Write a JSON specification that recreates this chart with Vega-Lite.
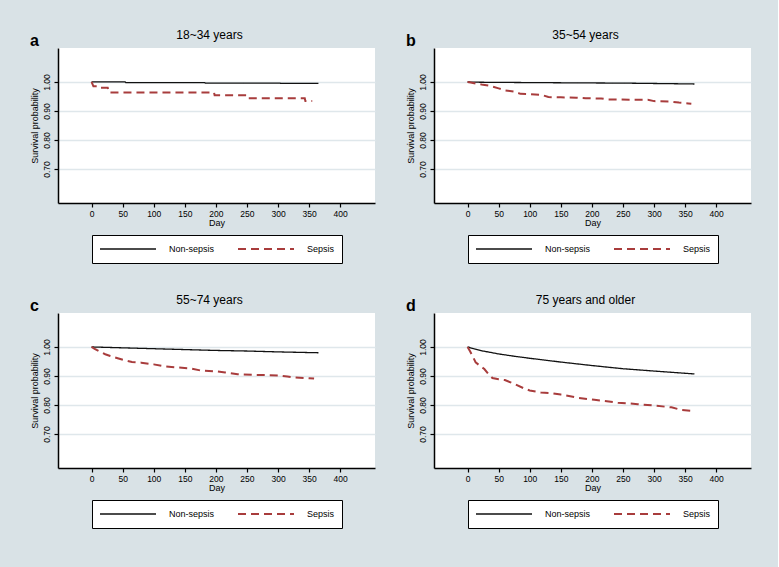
{
  "$schema": "https://vega.github.io/schema/vega-lite/v6.json",
  "background": "#d9e2e6",
  "padding": {"left": 29, "top": 29, "right": 27, "bottom": 39},
  "datasets": {
    "km": [
      {"panel": "a", "group": "Non-sepsis", "day": 0, "surv": 1.0},
      {"panel": "a", "group": "Non-sepsis", "day": 54, "surv": 1.0},
      {"panel": "a", "group": "Non-sepsis", "day": 55, "surv": 0.998},
      {"panel": "a", "group": "Non-sepsis", "day": 182, "surv": 0.998},
      {"panel": "a", "group": "Non-sepsis", "day": 183, "surv": 0.996},
      {"panel": "a", "group": "Non-sepsis", "day": 303, "surv": 0.996},
      {"panel": "a", "group": "Non-sepsis", "day": 304, "surv": 0.995},
      {"panel": "a", "group": "Non-sepsis", "day": 365, "surv": 0.995},
      {"panel": "a", "group": "Sepsis", "day": 0, "surv": 1.0},
      {"panel": "a", "group": "Sepsis", "day": 3, "surv": 0.985},
      {"panel": "a", "group": "Sepsis", "day": 13, "surv": 0.985},
      {"panel": "a", "group": "Sepsis", "day": 15, "surv": 0.98},
      {"panel": "a", "group": "Sepsis", "day": 26, "surv": 0.98},
      {"panel": "a", "group": "Sepsis", "day": 28, "surv": 0.964},
      {"panel": "a", "group": "Sepsis", "day": 197, "surv": 0.964},
      {"panel": "a", "group": "Sepsis", "day": 198, "surv": 0.954},
      {"panel": "a", "group": "Sepsis", "day": 249, "surv": 0.954},
      {"panel": "a", "group": "Sepsis", "day": 250, "surv": 0.944},
      {"panel": "a", "group": "Sepsis", "day": 343, "surv": 0.944},
      {"panel": "a", "group": "Sepsis", "day": 344, "surv": 0.934},
      {"panel": "a", "group": "Sepsis", "day": 355, "surv": 0.934},
      {"panel": "b", "group": "Non-sepsis", "day": 0, "surv": 1.0},
      {"panel": "b", "group": "Non-sepsis", "day": 20, "surv": 0.999},
      {"panel": "b", "group": "Non-sepsis", "day": 90, "surv": 0.998},
      {"panel": "b", "group": "Non-sepsis", "day": 165, "surv": 0.997},
      {"panel": "b", "group": "Non-sepsis", "day": 250, "surv": 0.996},
      {"panel": "b", "group": "Non-sepsis", "day": 330, "surv": 0.994},
      {"panel": "b", "group": "Non-sepsis", "day": 365, "surv": 0.993},
      {"panel": "b", "group": "Sepsis", "day": 0, "surv": 1.0},
      {"panel": "b", "group": "Sepsis", "day": 5, "surv": 0.998},
      {"panel": "b", "group": "Sepsis", "day": 15, "surv": 0.994},
      {"panel": "b", "group": "Sepsis", "day": 25, "surv": 0.99},
      {"panel": "b", "group": "Sepsis", "day": 35, "surv": 0.987},
      {"panel": "b", "group": "Sepsis", "day": 50, "surv": 0.978},
      {"panel": "b", "group": "Sepsis", "day": 60, "surv": 0.971},
      {"panel": "b", "group": "Sepsis", "day": 75, "surv": 0.967},
      {"panel": "b", "group": "Sepsis", "day": 85, "surv": 0.959},
      {"panel": "b", "group": "Sepsis", "day": 100, "surv": 0.958},
      {"panel": "b", "group": "Sepsis", "day": 120, "surv": 0.955},
      {"panel": "b", "group": "Sepsis", "day": 130, "surv": 0.948},
      {"panel": "b", "group": "Sepsis", "day": 150, "surv": 0.947},
      {"panel": "b", "group": "Sepsis", "day": 175, "surv": 0.946},
      {"panel": "b", "group": "Sepsis", "day": 190, "surv": 0.944},
      {"panel": "b", "group": "Sepsis", "day": 215, "surv": 0.943},
      {"panel": "b", "group": "Sepsis", "day": 225, "surv": 0.94},
      {"panel": "b", "group": "Sepsis", "day": 260, "surv": 0.939},
      {"panel": "b", "group": "Sepsis", "day": 290, "surv": 0.939},
      {"panel": "b", "group": "Sepsis", "day": 300, "surv": 0.934},
      {"panel": "b", "group": "Sepsis", "day": 325, "surv": 0.933},
      {"panel": "b", "group": "Sepsis", "day": 340, "surv": 0.929},
      {"panel": "b", "group": "Sepsis", "day": 355, "surv": 0.926},
      {"panel": "b", "group": "Sepsis", "day": 360, "surv": 0.925},
      {"panel": "c", "group": "Non-sepsis", "day": 0, "surv": 1.0},
      {"panel": "c", "group": "Non-sepsis", "day": 50, "surv": 0.997},
      {"panel": "c", "group": "Non-sepsis", "day": 100, "surv": 0.994},
      {"panel": "c", "group": "Non-sepsis", "day": 150, "surv": 0.991},
      {"panel": "c", "group": "Non-sepsis", "day": 200, "surv": 0.988},
      {"panel": "c", "group": "Non-sepsis", "day": 250, "surv": 0.986},
      {"panel": "c", "group": "Non-sepsis", "day": 300, "surv": 0.983},
      {"panel": "c", "group": "Non-sepsis", "day": 365, "surv": 0.98},
      {"panel": "c", "group": "Sepsis", "day": 0, "surv": 1.0},
      {"panel": "c", "group": "Sepsis", "day": 5, "surv": 0.993},
      {"panel": "c", "group": "Sepsis", "day": 13, "surv": 0.984},
      {"panel": "c", "group": "Sepsis", "day": 22, "surv": 0.975},
      {"panel": "c", "group": "Sepsis", "day": 30, "surv": 0.969},
      {"panel": "c", "group": "Sepsis", "day": 42, "surv": 0.961},
      {"panel": "c", "group": "Sepsis", "day": 55, "surv": 0.953},
      {"panel": "c", "group": "Sepsis", "day": 65, "surv": 0.948},
      {"panel": "c", "group": "Sepsis", "day": 80, "surv": 0.946},
      {"panel": "c", "group": "Sepsis", "day": 100, "surv": 0.94},
      {"panel": "c", "group": "Sepsis", "day": 115, "surv": 0.934},
      {"panel": "c", "group": "Sepsis", "day": 140, "surv": 0.929},
      {"panel": "c", "group": "Sepsis", "day": 160, "surv": 0.926},
      {"panel": "c", "group": "Sepsis", "day": 175, "surv": 0.919},
      {"panel": "c", "group": "Sepsis", "day": 200, "surv": 0.916},
      {"panel": "c", "group": "Sepsis", "day": 215, "surv": 0.912},
      {"panel": "c", "group": "Sepsis", "day": 235, "surv": 0.906},
      {"panel": "c", "group": "Sepsis", "day": 260, "surv": 0.904},
      {"panel": "c", "group": "Sepsis", "day": 300, "surv": 0.902},
      {"panel": "c", "group": "Sepsis", "day": 315, "surv": 0.898},
      {"panel": "c", "group": "Sepsis", "day": 325, "surv": 0.895},
      {"panel": "c", "group": "Sepsis", "day": 350, "surv": 0.892},
      {"panel": "c", "group": "Sepsis", "day": 358, "surv": 0.891},
      {"panel": "d", "group": "Non-sepsis", "day": 0, "surv": 1.0},
      {"panel": "d", "group": "Non-sepsis", "day": 10, "surv": 0.994},
      {"panel": "d", "group": "Non-sepsis", "day": 25, "surv": 0.986},
      {"panel": "d", "group": "Non-sepsis", "day": 50, "surv": 0.976},
      {"panel": "d", "group": "Non-sepsis", "day": 75, "surv": 0.968},
      {"panel": "d", "group": "Non-sepsis", "day": 100, "surv": 0.961},
      {"panel": "d", "group": "Non-sepsis", "day": 150, "surv": 0.948},
      {"panel": "d", "group": "Non-sepsis", "day": 200, "surv": 0.936},
      {"panel": "d", "group": "Non-sepsis", "day": 250, "surv": 0.925},
      {"panel": "d", "group": "Non-sepsis", "day": 300, "surv": 0.917},
      {"panel": "d", "group": "Non-sepsis", "day": 365, "surv": 0.907},
      {"panel": "d", "group": "Sepsis", "day": 0, "surv": 1.0},
      {"panel": "d", "group": "Sepsis", "day": 4, "surv": 0.985},
      {"panel": "d", "group": "Sepsis", "day": 8, "surv": 0.969},
      {"panel": "d", "group": "Sepsis", "day": 13, "surv": 0.947},
      {"panel": "d", "group": "Sepsis", "day": 20, "surv": 0.935},
      {"panel": "d", "group": "Sepsis", "day": 27, "surv": 0.924},
      {"panel": "d", "group": "Sepsis", "day": 33, "surv": 0.908},
      {"panel": "d", "group": "Sepsis", "day": 40, "surv": 0.893},
      {"panel": "d", "group": "Sepsis", "day": 50, "surv": 0.889},
      {"panel": "d", "group": "Sepsis", "day": 60, "surv": 0.886},
      {"panel": "d", "group": "Sepsis", "day": 75, "surv": 0.873},
      {"panel": "d", "group": "Sepsis", "day": 90, "surv": 0.858},
      {"panel": "d", "group": "Sepsis", "day": 100, "surv": 0.85},
      {"panel": "d", "group": "Sepsis", "day": 118, "surv": 0.843},
      {"panel": "d", "group": "Sepsis", "day": 135, "surv": 0.841},
      {"panel": "d", "group": "Sepsis", "day": 150, "surv": 0.836},
      {"panel": "d", "group": "Sepsis", "day": 177, "surv": 0.825},
      {"panel": "d", "group": "Sepsis", "day": 204, "surv": 0.818},
      {"panel": "d", "group": "Sepsis", "day": 242, "surv": 0.808},
      {"panel": "d", "group": "Sepsis", "day": 274, "surv": 0.803},
      {"panel": "d", "group": "Sepsis", "day": 301, "surv": 0.798},
      {"panel": "d", "group": "Sepsis", "day": 328, "surv": 0.792},
      {"panel": "d", "group": "Sepsis", "day": 344, "surv": 0.783},
      {"panel": "d", "group": "Sepsis", "day": 362, "surv": 0.78}
    ],
    "panels": [
      {"panel": "a", "letter": "a"},
      {"panel": "b", "letter": "b"},
      {"panel": "c", "letter": "c"},
      {"panel": "d", "letter": "d"}
    ]
  },
  "vconcat": [
    {
      "hconcat": [
        {
          "width": 317, "height": 155,
          "title": {"text": "18~34 years"},
          "layer": [
            {
              "data": {"name": "km"},
              "transform": [{"filter": "datum.panel === 'a'"}],
              "mark": {"type": "line"},
              "encoding": {
                "x": {"field": "day", "type": "quantitative", "scale": {"domain": [-54, 456], "nice": false, "zero": false}, "axis": {"values": [0, 50, 100, 150, 200, 250, 300, 350, 400], "tickCount": 20, "labelOverlap": false, "labelFlush": false, "title": "Day", "grid": false}},
                "y": {"field": "surv", "type": "quantitative", "scale": {"domain": [0.583, 1.117], "nice": false, "zero": false}, "axis": {"values": [0.7, 0.8, 0.9, 1.0], "tickCount": 10, "labelOverlap": false, "format": ".2f", "title": "Survival probability", "grid": true}},
                "color": {"field": "group", "type": "nominal", "scale": {"domain": ["Non-sepsis", "Sepsis"], "range": ["#111111", "#a83c3c"]}, "legend": {"title": null}},
                "strokeDash": {"field": "group", "type": "nominal", "scale": {"domain": ["Non-sepsis", "Sepsis"], "range": [[1, 0], [8, 5]]}, "legend": {"title": null}},
                "strokeWidth": {"field": "group", "type": "nominal", "scale": {"domain": ["Non-sepsis", "Sepsis"], "range": [1.3, 2]}, "legend": {"title": null}}
              }
            },
            {
              "data": {"name": "panels"},
              "transform": [{"filter": "datum.panel === 'a'"}],
              "mark": {"type": "text", "fontSize": 16, "fontWeight": "bold", "align": "left", "baseline": "alphabetic", "font": "Liberation Sans", "color": "black"},
              "encoding": {"x": {"datum": -99, "type": "quantitative"}, "y": {"datum": 1.123, "type": "quantitative"}, "text": {"field": "letter"}}
            }
          ]
        },
        {
          "width": 317, "height": 155,
          "title": {"text": "35~54 years"},
          "layer": [
            {
              "data": {"name": "km"},
              "transform": [{"filter": "datum.panel === 'b'"}],
              "mark": {"type": "line"},
              "encoding": {
                "x": {"field": "day", "type": "quantitative", "scale": {"domain": [-54, 456], "nice": false, "zero": false}, "axis": {"values": [0, 50, 100, 150, 200, 250, 300, 350, 400], "tickCount": 20, "labelOverlap": false, "labelFlush": false, "title": "Day", "grid": false}},
                "y": {"field": "surv", "type": "quantitative", "scale": {"domain": [0.583, 1.117], "nice": false, "zero": false}, "axis": {"values": [0.7, 0.8, 0.9, 1.0], "tickCount": 10, "labelOverlap": false, "format": ".2f", "title": "Survival probability", "grid": true}},
                "color": {"field": "group", "type": "nominal", "scale": {"domain": ["Non-sepsis", "Sepsis"], "range": ["#111111", "#a83c3c"]}, "legend": {"title": null}},
                "strokeDash": {"field": "group", "type": "nominal", "scale": {"domain": ["Non-sepsis", "Sepsis"], "range": [[1, 0], [8, 5]]}, "legend": {"title": null}},
                "strokeWidth": {"field": "group", "type": "nominal", "scale": {"domain": ["Non-sepsis", "Sepsis"], "range": [1.3, 2]}, "legend": {"title": null}}
              }
            },
            {
              "data": {"name": "panels"},
              "transform": [{"filter": "datum.panel === 'b'"}],
              "mark": {"type": "text", "fontSize": 16, "fontWeight": "bold", "align": "left", "baseline": "alphabetic", "font": "Liberation Sans", "color": "black"},
              "encoding": {"x": {"datum": -99, "type": "quantitative"}, "y": {"datum": 1.123, "type": "quantitative"}, "text": {"field": "letter"}}
            }
          ]
        }
      ],
      "spacing": 30,
      "resolve": {"scale": {"color": "independent", "strokeDash": "independent", "strokeWidth": "independent"}, "legend": {"color": "independent", "strokeDash": "independent", "strokeWidth": "independent"}}
    },
    {
      "hconcat": [
        {
          "width": 317, "height": 155,
          "title": {"text": "55~74 years"},
          "layer": [
            {
              "data": {"name": "km"},
              "transform": [{"filter": "datum.panel === 'c'"}],
              "mark": {"type": "line"},
              "encoding": {
                "x": {"field": "day", "type": "quantitative", "scale": {"domain": [-54, 456], "nice": false, "zero": false}, "axis": {"values": [0, 50, 100, 150, 200, 250, 300, 350, 400], "tickCount": 20, "labelOverlap": false, "labelFlush": false, "title": "Day", "grid": false}},
                "y": {"field": "surv", "type": "quantitative", "scale": {"domain": [0.583, 1.117], "nice": false, "zero": false}, "axis": {"values": [0.7, 0.8, 0.9, 1.0], "tickCount": 10, "labelOverlap": false, "format": ".2f", "title": "Survival probability", "grid": true}},
                "color": {"field": "group", "type": "nominal", "scale": {"domain": ["Non-sepsis", "Sepsis"], "range": ["#111111", "#a83c3c"]}, "legend": {"title": null}},
                "strokeDash": {"field": "group", "type": "nominal", "scale": {"domain": ["Non-sepsis", "Sepsis"], "range": [[1, 0], [8, 5]]}, "legend": {"title": null}},
                "strokeWidth": {"field": "group", "type": "nominal", "scale": {"domain": ["Non-sepsis", "Sepsis"], "range": [1.3, 2]}, "legend": {"title": null}}
              }
            },
            {
              "data": {"name": "panels"},
              "transform": [{"filter": "datum.panel === 'c'"}],
              "mark": {"type": "text", "fontSize": 16, "fontWeight": "bold", "align": "left", "baseline": "alphabetic", "font": "Liberation Sans", "color": "black"},
              "encoding": {"x": {"datum": -99, "type": "quantitative"}, "y": {"datum": 1.123, "type": "quantitative"}, "text": {"field": "letter"}}
            }
          ]
        },
        {
          "width": 317, "height": 155,
          "title": {"text": "75 years and older"},
          "layer": [
            {
              "data": {"name": "km"},
              "transform": [{"filter": "datum.panel === 'd'"}],
              "mark": {"type": "line"},
              "encoding": {
                "x": {"field": "day", "type": "quantitative", "scale": {"domain": [-54, 456], "nice": false, "zero": false}, "axis": {"values": [0, 50, 100, 150, 200, 250, 300, 350, 400], "tickCount": 20, "labelOverlap": false, "labelFlush": false, "title": "Day", "grid": false}},
                "y": {"field": "surv", "type": "quantitative", "scale": {"domain": [0.583, 1.117], "nice": false, "zero": false}, "axis": {"values": [0.7, 0.8, 0.9, 1.0], "tickCount": 10, "labelOverlap": false, "format": ".2f", "title": "Survival probability", "grid": true}},
                "color": {"field": "group", "type": "nominal", "scale": {"domain": ["Non-sepsis", "Sepsis"], "range": ["#111111", "#a83c3c"]}, "legend": {"title": null}},
                "strokeDash": {"field": "group", "type": "nominal", "scale": {"domain": ["Non-sepsis", "Sepsis"], "range": [[1, 0], [8, 5]]}, "legend": {"title": null}},
                "strokeWidth": {"field": "group", "type": "nominal", "scale": {"domain": ["Non-sepsis", "Sepsis"], "range": [1.3, 2]}, "legend": {"title": null}}
              }
            },
            {
              "data": {"name": "panels"},
              "transform": [{"filter": "datum.panel === 'd'"}],
              "mark": {"type": "text", "fontSize": 16, "fontWeight": "bold", "align": "left", "baseline": "alphabetic", "font": "Liberation Sans", "color": "black"},
              "encoding": {"x": {"datum": -99, "type": "quantitative"}, "y": {"datum": 1.123, "type": "quantitative"}, "text": {"field": "letter"}}
            }
          ]
        }
      ],
      "spacing": 30,
      "resolve": {"scale": {"color": "independent", "strokeDash": "independent", "strokeWidth": "independent"}, "legend": {"color": "independent", "strokeDash": "independent", "strokeWidth": "independent"}}
    }
  ],
  "spacing": 30,
  "resolve": {"scale": {"color": "independent", "strokeDash": "independent", "strokeWidth": "independent"}, "legend": {"color": "independent", "strokeDash": "independent", "strokeWidth": "independent"}},
  "config": {
    "font": "Liberation Sans",
    "view": {"fill": "white", "stroke": null},
    "title": {"fontSize": 12, "fontWeight": "normal", "font": "Liberation Sans", "color": "black", "anchor": "middle", "frame": "group", "dx": -7, "baseline": "alphabetic", "offset": -9},
    "axis": {"domainColor": "black", "domainWidth": 1.5, "tickColor": "black", "tickSize": 4, "tickWidth": 1.2, "labelFont": "Liberation Sans", "labelFontSize": 8.5, "labelColor": "black", "labelOverlap": false, "labelFlush": false, "titleFont": "Liberation Sans", "titleFontSize": 9, "titleFontWeight": "normal", "titleColor": "black", "gridColor": "#dfe7eb", "gridWidth": 1.5},
    "axisX": {"labelPadding": 2, "titlePadding": 1},
    "axisY": {"labelAngle": 270, "labelAlign": "center", "labelBaseline": "bottom", "labelPadding": 3, "titlePadding": 3},
    "line": {"strokeCap": "butt"},
    "legend": {"orient": "none", "legendX": 34, "legendY": 187, "direction": "horizontal", "strokeColor": "black", "fillColor": "white", "padding": 7, "symbolType": "stroke", "symbolSize": 3136, "clipHeight": 14, "labelOffset": 12, "columnPadding": 22, "labelFontSize": 9, "labelFont": "Liberation Sans", "labelColor": "black", "cornerRadius": 0, "symbolStrokeWidth": 1.5}
  }
}
